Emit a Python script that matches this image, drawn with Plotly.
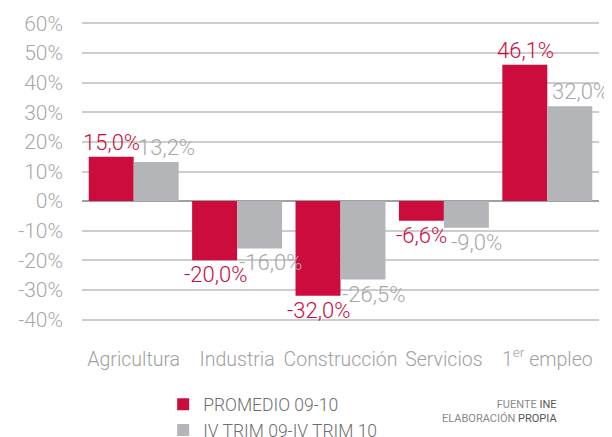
import plotly.graph_objects as go

categories = ["Agricultura", "Industria", "Construcción", "Servicios", "1<sup>er</sup> empleo"]
promedio = [15.0, -20.0, -32.0, -6.6, 46.1]
iv_trim = [13.2, -16.0, -26.5, -9.0, 32.0]
series_names = ["PROMEDIO 09-10", "IV TRIM 09-IV TRIM 10"]
tick_vals = [-40, -30, -20, -10, 0, 10, 20, 30, 40, 50, 60]
tick_text = [f"{v}%" for v in tick_vals]

RED = "#cc0c3c"
GRAY = "#b4b5b8"
FONT = "Roboto, sans-serif"

def fmt(v):
    return f"{v:.1f}%".replace(".", ",")

fig = go.Figure()
fig.add_trace(go.Bar(x=categories, y=promedio, name=series_names[0], marker_color=RED,
                     marker_line_width=0))
fig.add_trace(go.Bar(x=categories, y=iv_trim, name=series_names[1], marker_color=GRAY,
                     marker_line_width=0))

annotations = []
for cat, v in zip(categories, promedio):
    annotations.append(dict(x=cat, y=v, text=fmt(v), showarrow=False, xshift=-22,
                            yanchor="bottom" if v >= 0 else "top",
                            font=dict(family=FONT, size=22, weight=300, color=RED)))
for cat, v in zip(categories, iv_trim):
    annotations.append(dict(x=cat, y=v, text=fmt(v), showarrow=False, xshift=33,
                            yanchor="bottom" if v >= 0 else "top",
                            font=dict(family=FONT, size=22, weight=300, color="#a7a8ab")))

annotations.append(dict(xref="paper", yref="paper", x=0.923, y=-0.302,
                        xanchor="right", yanchor="middle", align="right", showarrow=False,
                        text=("FUENTE <span style='color:#555'>INE</span><br>"
                              "ELABORACIÓN <span style='color:#555'>PROPIA</span>"),
                        font=dict(family=FONT, size=11, color="#8a8a8a")))

# page body has an 8px margin: figure is sized/offset to compensate
fig.update_layout(
    width=604, height=429,
    margin=dict(l=74, r=13, t=14, b=116, autoexpand=False),
    paper_bgcolor="white", plot_bgcolor="white",
    barmode="group", bargap=0.13, bargroupgap=0,
    font=dict(family=FONT, color="#a0a0a0"),
    showlegend=True,
    legend=dict(orientation="v", x=0.157, y=-0.219, xanchor="left", yanchor="top",
                font=dict(family=FONT, size=17.5, weight=300, color="#6e6e6e"),
                bgcolor="rgba(0,0,0,0)", tracegroupgap=0),
    annotations=annotations,
)
fig.update_xaxes(range=[-0.5, len(categories) - 0.5], showgrid=False, showline=False,
                 ticks="", tickangle=0, automargin=False,
                 tickfont=dict(family=FONT, size=19.5, weight=300, color="#a0a0a0"),
                 ticklabelstandoff=24)
fig.update_yaxes(range=[-40.5, 60.5], tickvals=tick_vals, ticktext=tick_text, automargin=False,
                 showgrid=True, gridcolor="#cdcdcd", gridwidth=1.5,
                 zeroline=True, zerolinecolor="#a0a0a0", zerolinewidth=1.5,
                 showline=False, ticks="",
                 tickfont=dict(family=FONT, size=21, weight=300, color="#a8a8a8"),
                 ticklabelstandoff=18)

fig.write_html("out.html")
